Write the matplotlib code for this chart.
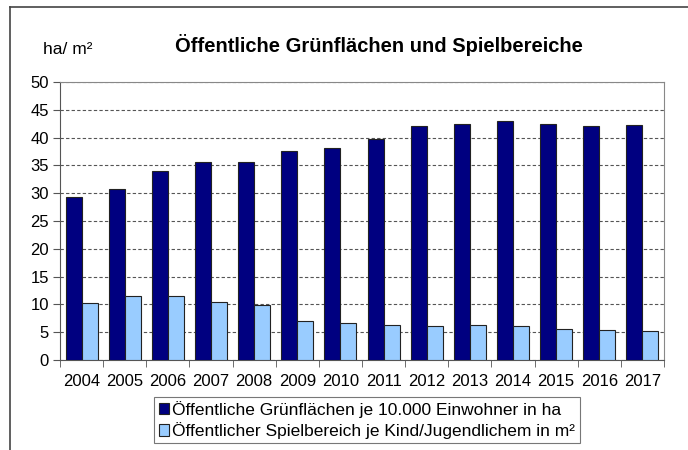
import numpy as np
import matplotlib.pyplot as plt
from matplotlib.lines import Line2D

plt.rcParams['font.family'] = ['Liberation Sans', 'DejaVu Sans']

# data
years = ['2004', '2005', '2006', '2007', '2008', '2009', '2010',
         '2011', '2012', '2013', '2014', '2015', '2016', '2017']
gruenflaechen = [29.4, 30.8, 34.0, 35.7, 35.7, 37.6, 38.2,
                 39.8, 42.0, 42.4, 42.9, 42.4, 42.1, 42.3]
spielbereich = [10.3, 11.5, 11.5, 10.4, 9.9, 7.1, 6.6,
                6.3, 6.2, 6.3, 6.2, 5.5, 5.4, 5.2]

fig = plt.figure(figsize=(6.88, 4.5), dpi=100)
W, H = 688, 450
ax = fig.add_axes([60 / W, 1 - 360 / H, (664 - 60) / W, (360 - 82) / H])

x = np.arange(len(years))
bw = 0.37
ax.bar(x - bw / 2, gruenflaechen, bw, color='#000080', edgecolor='#222222',
       linewidth=0.8, zorder=3,
       label='Öffentliche Grünflächen je 10.000 Einwohner in ha')
ax.bar(x + bw / 2, spielbereich, bw, color='#99CCFF', edgecolor='#222222',
       linewidth=0.8, zorder=3,
       label='Öffentlicher Spielbereich je Kind/Jugendlichem in m²')

ax.set_xlim(-0.5, len(years) - 0.5)
ax.set_ylim(0, 50)
ax.set_yticks(range(0, 51, 5))
ax.yaxis.grid(True, linestyle=(0, (3, 2)), color='#555555', linewidth=0.8, zorder=0)

# category labels centred, tick marks between groups
ax.set_xticks(x)
ax.set_xticklabels(years, fontsize=12)
ax.tick_params(axis='x', which='major', length=0, pad=10)
ax.set_xticks(np.arange(-0.5, len(years), 1), minor=True)
ax.tick_params(axis='x', which='minor', length=5, direction='out', color='#555555')
ax.tick_params(axis='y', labelsize=12, length=5, direction='out', color='#555555', pad=3)

for s in ['top', 'right']:
    ax.spines[s].set_color('#888888')
for s in ['left', 'bottom']:
    ax.spines[s].set_color('#555555')

fig.text(379 / W, 1 - 45 / H, 'Öffentliche Grünflächen und Spielbereiche',
         fontsize=14.5, fontweight='bold', ha='center', va='center')
fig.text(43 / W, 1 - 50 / H, 'ha/ m²', fontsize=12.5, ha='left', va='center')

leg = fig.legend(loc='center', bbox_to_anchor=(367 / W, 1 - 420 / H),
                 fontsize=12.5, frameon=True, fancybox=False, edgecolor='#555555',
                 handlelength=0.6, handleheight=0.6, handletextpad=0.2,
                 borderpad=0.25, labelspacing=0.25)
leg.get_frame().set_linewidth(0.8)

# outer frame of the picture
fig.add_artist(Line2D([10 / W, 10 / W], [0, 1 - 7 / H], color='#444444', linewidth=1.2))
fig.add_artist(Line2D([10 / W, 1], [1 - 7 / H, 1 - 7 / H], color='#444444', linewidth=1.2))

fig.savefig('out.png', dpi=100)
